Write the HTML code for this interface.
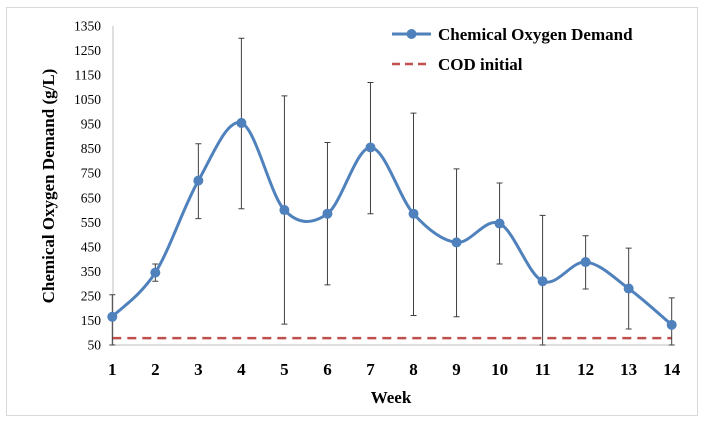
<!DOCTYPE html>
<html><head><meta charset="utf-8"><style>
body{margin:0;background:#fff;}
svg{display:block;font-family:"Liberation Serif",serif;}
</style></head><body>
<svg width="719" height="426">
<rect x="6.5" y="7.5" width="691" height="408" fill="#fff" stroke="#d9d9d9"/>
<g id="g"></g>
</svg>
<script>
const weeks=[1,2,3,4,5,6,7,8,9,10,11,12,13,14];
const codValues=[165,345,720,955,600,585,855,585,468,545,310,388,280,132];
const errLow=[50,310,565,605,135,295,585,170,165,380,50,278,115,50];
const errHigh=[255,380,870,1300,1065,875,1120,995,768,710,578,495,445,242];
const yTicks=[50,150,250,350,450,550,650,750,850,950,1050,1150,1250,1350];
const codInitial=78;
const NS="http://www.w3.org/2000/svg";
const g=document.getElementById('g');
const X=w=>112.3+(w-1)*43.03;
const Y=v=>345-(v-50)*319/1300;
function el(t,a,p){const e=document.createElementNS(NS,t);for(const k in a)e.setAttribute(k,a[k]);(p||g).appendChild(e);return e;}
// axes
let a=el('line',{x1:113,y1:26,x2:113,y2:345,stroke:'#bfbfbf'});


a=el('line',{x1:113,y1:345,x2:672,y2:345,stroke:'#bfbfbf'});


yTicks.forEach(v=>{const t=el('text',{x:101,y:Y(v)+4.5,'text-anchor':'end','font-size':'13.5'});t.textContent=v;

});
weeks.forEach(w=>{const t=el('text',{x:X(w),y:375,'text-anchor':'middle','font-size':'17','font-weight':'bold'});t.textContent=w;

});
let t=el('text',{x:391,y:403,'text-anchor':'middle','font-size':'17','font-weight':'bold'});t.textContent='Week';


t=el('text',{x:0,y:0,transform:'translate(54,186) rotate(-90)','text-anchor':'middle','font-size':'17','font-weight':'bold'});t.textContent='Chemical Oxygen Demand (g/L)';


// initial line
let d=el('line',{x1:X(1),x2:X(14),y1:Y(codInitial),y2:Y(codInitial),stroke:'#c0504d','stroke-width':2.5,'stroke-dasharray':'9,6'});


// error bars
weeks.forEach((w,i)=>{const x=X(w),y1=Y(errHigh[i]),y2=Y(errLow[i]);
const e=el('path',{d:`M${x},${y1}V${y2}M${x-3},${y1}H${x+3}M${x-3},${y2}H${x+3}`,stroke:'#404040','stroke-width':1,fill:'none'});

});
// smooth curve
const P=weeks.map((w,i)=>[X(w),Y(codValues[i])]);
let s=`M${P[0][0]},${P[0][1]}`;
for(let i=0;i<P.length-1;i++){const p0=P[Math.max(0,i-1)],p1=P[i],p2=P[i+1],p3=P[Math.min(P.length-1,i+2)];
const c1=[p1[0]+(p2[0]-p0[0])/6,p1[1]+(p2[1]-p0[1])/6],c2=[p2[0]-(p3[0]-p1[0])/6,p2[1]-(p3[1]-p1[1])/6];
s+=`C${c1[0]},${c1[1]} ${c2[0]},${c2[1]} ${p2[0]},${p2[1]}`;}
const c=el('path',{d:s,stroke:'#4f81bd','stroke-width':3,fill:'none'});


P.forEach(p=>{const m=el('circle',{cx:p[0],cy:p[1],r:5,fill:'#4f81bd'});

});
// legend
let l=el('line',{x1:392,x2:431,y1:34,y2:34,stroke:'#4f81bd','stroke-width':3});


l=el('circle',{cx:411.5,cy:34,r:5,fill:'#4f81bd'});


t=el('text',{x:438,y:40,'font-size':'17','font-weight':'bold'});t.textContent='Chemical Oxygen Demand';


l=el('line',{x1:392,x2:431,y1:64,y2:64,stroke:'#c0504d','stroke-width':2.5,'stroke-dasharray':'8,5'});


t=el('text',{x:438,y:70,'font-size':'17','font-weight':'bold'});t.textContent='COD initial';


</script>
</body></html>
